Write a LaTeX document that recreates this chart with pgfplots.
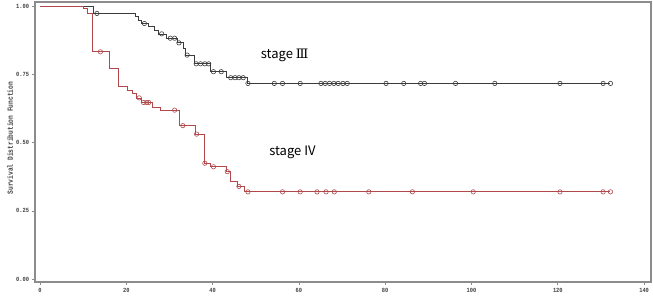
\documentclass[border=0pt]{standalone}
\usepackage{pgfplots}
\pgfplotsset{compat=1.18}
\usepackage{fontspec}
\setmainfont{Liberation Sans}
\setmonofont{Liberation Mono}
\newfontfamily\krfont{Noto Sans CJK KR}
\newfontfamily\numfont{DejaVu Serif}
\definecolor{kmred}{RGB}{176,72,76}
\definecolor{kmblack}{RGB}{60,60,60}
\definecolor{axgray}{RGB}{140,140,140}
\begin{document}
\begin{tikzpicture}
\begin{axis}[
  scale only axis, width=616pt, height=280pt,
  xmin=-1.16, xmax=141.6, ymin=-0.011, ymax=1.017,
  clip=false,
  axis line style={axgray, line width=1.2pt},
  xtick={0,20,...,140}, ytick={0,0.25,0.5,0.75,1},
  yticklabel style={/pgf/number format/fixed, /pgf/number format/fixed zerofill, /pgf/number format/precision=2},
  tick align=outside, tick pos=left, major tick length=3pt,
  tick style={axgray, line width=0.8pt},
  ticklabel style={font=\ttfamily\bfseries\fontsize{6.3}{7}\selectfont, text=black!75, xscale=0.85},
  /pgf/number format/assume math mode=true,
  ylabel={Survival Distribution Function},
  every axis y label/.style={at={(axis description cs:-0.0406,0.514)}, rotate=90, xscale=0.8, anchor=center, font=\ttfamily\bfseries\fontsize{7.8}{9}\selectfont, text=black!75},
]
% stage III curve
\addplot[const plot, kmblack, line width=0.7pt] coordinates {
(0,1) (12.4,0.975) (22.1,0.963) (22.9,0.950) (23.6,0.938) (25.2,0.926) (26.4,0.914)
(27.5,0.900) (29.3,0.884) (31.8,0.867) (33.3,0.845) (33.7,0.822) (35.7,0.790)
(39.5,0.761) (43.3,0.739) (48.1,0.718) (132.2,0.718)};
\addplot[only marks, mark=o, mark size=2.2pt, kmblack, mark options={line width=0.6pt}] coordinates {
(13.2,0.975) (24.2,0.938) (28.2,0.900) (30.2,0.884) (31.2,0.884) (32.2,0.867) (34.1,0.822)
(36.2,0.790) (37.2,0.790) (38.2,0.790) (39.1,0.790) (40.2,0.761) (42.0,0.761)
(44.2,0.739) (45.2,0.739) (46.1,0.739) (47.1,0.739) (48.2,0.718)
(54.3,0.718) (56.2,0.718) (60.3,0.718) (65.1,0.718) (66.1,0.718) (67.1,0.718) (68.1,0.718)
(69.1,0.718) (70.2,0.718) (71.2,0.718) (80.2,0.718) (84.3,0.718) (88.2,0.718) (89.1,0.718)
(96.3,0.718) (105.4,0.718) (120.5,0.718) (130.5,0.718) (132.2,0.718)};
% stage IV curve
\addplot[const plot, kmred, line width=0.7pt] coordinates {
(0,1) (10.1,0.993) (11.0,0.977) (12.2,0.834) (16.1,0.773) (18.2,0.708) (20.2,0.694)
(21.3,0.681) (22.3,0.665) (23.5,0.648) (26.0,0.632) (27.9,0.620) (32.4,0.563)
(36.0,0.532) (38.0,0.425) (39.5,0.412) (43.3,0.394) (44.2,0.357) (45.8,0.340)
(47.3,0.320) (132.2,0.320)};
\addplot[only marks, mark=o, mark size=2.2pt, kmred, mark options={line width=0.6pt}] coordinates {
(14.0,0.834) (23.0,0.665) (24.0,0.648) (24.7,0.648) (25.2,0.648) (31.2,0.620) (33.1,0.563)
(36.3,0.532) (38.2,0.425) (40.2,0.412) (43.4,0.394) (46.1,0.340) (48.2,0.320)
(56.2,0.320) (60.3,0.320) (64.2,0.320) (66.3,0.320) (68.2,0.320) (76.2,0.320)
(86.3,0.320) (100.4,0.320) (120.5,0.320) (130.5,0.320) (132.2,0.320)};
\node[font=\krfont\fontsize{13}{15}\selectfont] at (axis cs:56.7,0.822) {stage {\numfont Ⅲ}};
\node[font=\krfont\fontsize{13}{15}\selectfont] at (axis cs:58.5,0.464) {stage IV};
\path (axis description cs:-0.0568,-0.0714) -- (axis description cs:1.0032,1.0071);
\end{axis}
\end{tikzpicture}
\end{document}
